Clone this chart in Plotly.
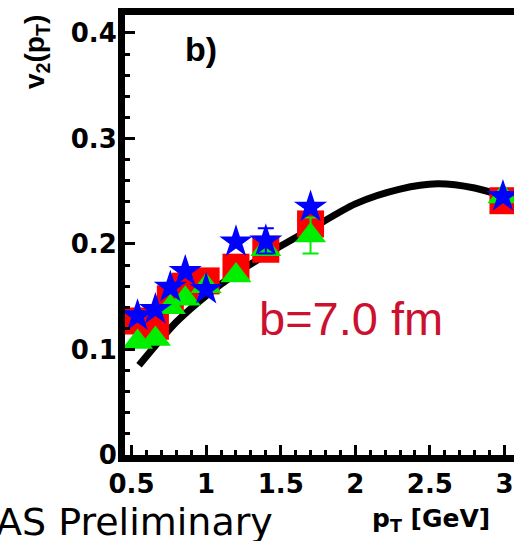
import plotly.graph_objects as go

# ---- data ----
pt = [0.54, 0.66, 0.76, 0.86, 1.0, 1.2, 1.4, 1.7, 2.99]
v2_red = [0.127, 0.122, 0.148, 0.160, 0.165, 0.178, 0.195, 0.219, 0.241]
v2_green = [0.107, 0.110, 0.140, 0.148, 0.160, 0.170, 0.195, 0.208, 0.245]
v2_blue = [0.132, 0.138, 0.159, 0.174, 0.157, 0.202, 0.203, 0.235, 0.245]
err_green = [0, 0, 0, 0, 0, 0, 0, 0.017, 0]
err_blue = [0, 0, 0, 0, 0, 0, 0.012, 0, 0]

curve_pt = [0.55, 0.8, 1.0, 1.2, 1.5, 1.7, 2.0, 2.3, 2.55, 2.8, 3.0]
curve_v2 = [0.085, 0.126, 0.151, 0.172, 0.198, 0.214, 0.238, 0.252, 0.257, 0.253, 0.245]

x_tickvals = [0.5, 1, 1.5, 2, 2.5, 3]
x_ticktext = ["0.5", "1", "1.5", "2", "2.5", "3"]
y_tickvals = [0, 0.1, 0.2, 0.3, 0.4]
y_ticktext = ["0", "0.1", "0.2", "0.3", "0.4"]

W, H = 514, 541
L, R, T, B = 125, 0, 15, 86
PW, PH = W - L - R, H - T - B


def px(xp):
    return (xp - L) / PW


def py(yp):
    return (H - B - yp) / PH


fig = go.Figure()
fig.add_trace(go.Scatter(x=curve_pt, y=curve_v2, mode="lines",
                         line=dict(color="black", width=7, shape="spline", smoothing=0.8),
                         hoverinfo="skip", showlegend=False))
fig.add_trace(go.Scatter(x=pt, y=v2_red, mode="markers",
                         marker=dict(symbol="square", size=27, color="#ff0000"),
                         showlegend=False))
fig.add_trace(go.Scatter(x=pt, y=v2_green, mode="markers",
                         marker=dict(symbol="triangle-up", size=27, color="#00ee00"),
                         error_y=dict(type="data", array=err_green, color="#00ee00",
                                      thickness=2, width=8),
                         showlegend=False))
fig.add_trace(go.Scatter(x=pt, y=v2_blue, mode="markers",
                         marker=dict(symbol="star", size=25, color="#0000ff"),
                         error_y=dict(type="data", array=err_blue, color="#0000ff",
                                      thickness=2, width=8),
                         showlegend=False))

tickfont = dict(family="DejaVu Sans", size=26, color="black", weight="bold")

fig.update_xaxes(range=[0.456, 3.064], showline=True, linewidth=7, linecolor="black",
                 mirror=True, showgrid=False, zeroline=False,
                 tickmode="array", tickvals=x_tickvals, ticktext=x_ticktext,
                 ticks="inside", ticklen=10, tickwidth=3, tickcolor="black",
                 tickfont=tickfont,
                 minor=dict(tick0=0, dtick=0.1, ticks="inside", ticklen=5,
                            tickwidth=3, tickcolor="black", showgrid=False))
fig.update_yaxes(range=[0, 0.417], showline=True, linewidth=7, linecolor="black",
                 mirror=False, showgrid=False, zeroline=False,
                 tickmode="array", tickvals=y_tickvals, ticktext=y_ticktext,
                 ticks="inside", ticklen=10, tickwidth=3, tickcolor="black",
                 tickfont=tickfont, ticklabelstandoff=-4,
                 minor=dict(tick0=0, dtick=0.02, ticks="inside", ticklen=5,
                            tickwidth=3, tickcolor="black", showgrid=False))

annotations = [
    dict(x=px(201), y=py(49), text="<b>b)</b>", showarrow=False,
         font=dict(family="Liberation Sans", size=34, color="black"),
         xanchor="center", yanchor="middle"),
    dict(x=px(257), y=py(318), text="b=7.0 fm", showarrow=False,
         font=dict(family="Liberation Sans", size=47, color="#cc1030"),
         xanchor="left", yanchor="middle"),
    dict(x=px(-6), y=py(522), text="AS Preliminary", showarrow=False,
         font=dict(family="DejaVu Sans", size=38, color="black"),
         xanchor="left", yanchor="middle"),
    dict(x=px(370), y=py(520), text="<b>p<sub>T</sub> [GeV]</b>", showarrow=False,
         font=dict(family="DejaVu Sans", size=25, color="black"),
         xanchor="left", yanchor="middle"),
    dict(x=px(36), y=py(52), text="<b>v<sub>2</sub>(p<sub>T</sub>)</b>", showarrow=False,
         textangle=-90,
         font=dict(family="Liberation Sans", size=28, color="black"),
         xanchor="center", yanchor="middle"),
]
for a in annotations:
    a["xref"] = "paper"
    a["yref"] = "paper"
fig.update_layout(annotations=annotations)

fig.update_layout(width=W, height=H, margin=dict(l=L, r=R, t=T, b=B, pad=0),
                  paper_bgcolor="white", plot_bgcolor="white", showlegend=False)

fig.write_html("out.html")
